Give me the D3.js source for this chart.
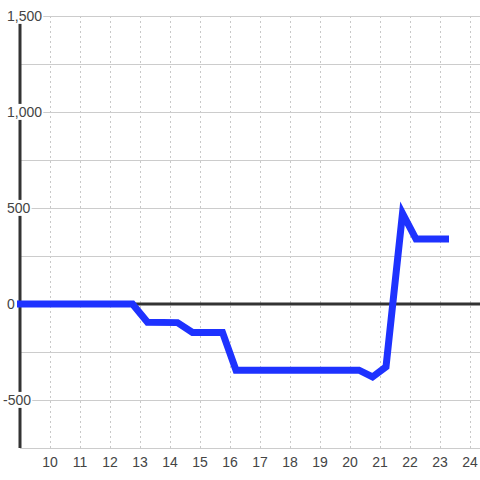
<!DOCTYPE html>
<html><head><meta charset="utf-8">
<script src="https://cdn.jsdelivr.net/npm/d3@7"></script>
<style>body{margin:0;background:#fff}svg{display:block}text{font-family:"Liberation Sans",Arial,sans-serif}</style>
</head><body>
<svg id="c" width="480" height="480"></svg>
<script>
const xs = [8.9, 12.75, 13.25, 14.25, 14.75, 15.75, 16.2, 20.3, 20.75, 21.2, 21.75, 22.2, 23.3];
const ys = [0, 0, -95, -97, -148, -148, -345, -345, -380, -327, 472, 338, 338];
const xTicks = [10, 11, 12, 13, 14, 15, 16, 17, 18, 19, 20, 21, 22, 23, 24];
const yGrid = [-750, -500, -250, 0, 250, 500, 750, 1000, 1250, 1500];
const yLabels = [-500, 0, 500, 1000, 1500];

const svg = d3.select("#c");
const x = d3.scaleLinear().domain([9, 24 + 1/3]).range([20, 480]);
const y = d3.scaleLinear().domain([-750, 1500]).range([448, 16]);

// vertical dotted grid
svg.append("g").selectAll("line").data(xTicks).join("line")
  .attr("x1", d => x(d)+0.5).attr("x2", d => x(d)+0.5)
  .attr("y1", y(1500)).attr("y2", y(-750))
  .attr("stroke", "#c8c8c8").attr("stroke-dasharray", "2,3");
// horizontal grid
svg.append("g").selectAll("line").data(yGrid.filter(d => d !== 0)).join("line")
  .attr("x1", x(9)).attr("x2", 480)
  .attr("y1", d => y(d)+0.5).attr("y2", d => y(d)+0.5)
  .attr("stroke", "#cccccc");
// zero line
svg.append("line").attr("x1", x(9)).attr("x2", 480).attr("y1", y(0)).attr("y2", y(0))
  .attr("stroke", "#333").attr("stroke-width", 3);
// left axis
svg.append("line").attr("x1", x(9)).attr("x2", x(9)).attr("y1", y(1500)).attr("y2", y(-750))
  .attr("stroke", "#333").attr("stroke-width", 3);

// y labels with white background
const fmt = d => d3.format(",")(d).replace("\u2212", "-");
const yl = svg.append("g").selectAll("g").data(yLabels).join("g");
yl.append("rect").attr("fill", "#fff");
yl.append("text").attr("x", d => d < 0 ? 3 : 7).attr("y", d => y(d)).attr("dy", "0.35em")
  .attr("font-size", 14).attr("fill", "#444").text(d => fmt(d));
yl.each(function() {
  const t = d3.select(this).select("text").node().getBBox();
  d3.select(this).select("rect").attr("x", t.x - 1).attr("y", t.y).attr("width", t.width + 2).attr("height", t.height);
});

// x labels
svg.append("g").selectAll("text").data(xTicks).join("text")
  .attr("x", d => x(d)).attr("y", 462).attr("dy", "0.35em").attr("text-anchor", "middle")
  .attr("font-size", 14).attr("fill", "#444").text(d => d);

// line
const pts = xs.map((v, i) => [v, ys[i]]);
svg.append("path").datum(pts)
  .attr("d", d3.line().x(d => x(d[0])).y(d => y(d[1])))
  .attr("fill", "none").attr("stroke", "#1e32ff").attr("stroke-width", 7);
</script>
</body></html>
